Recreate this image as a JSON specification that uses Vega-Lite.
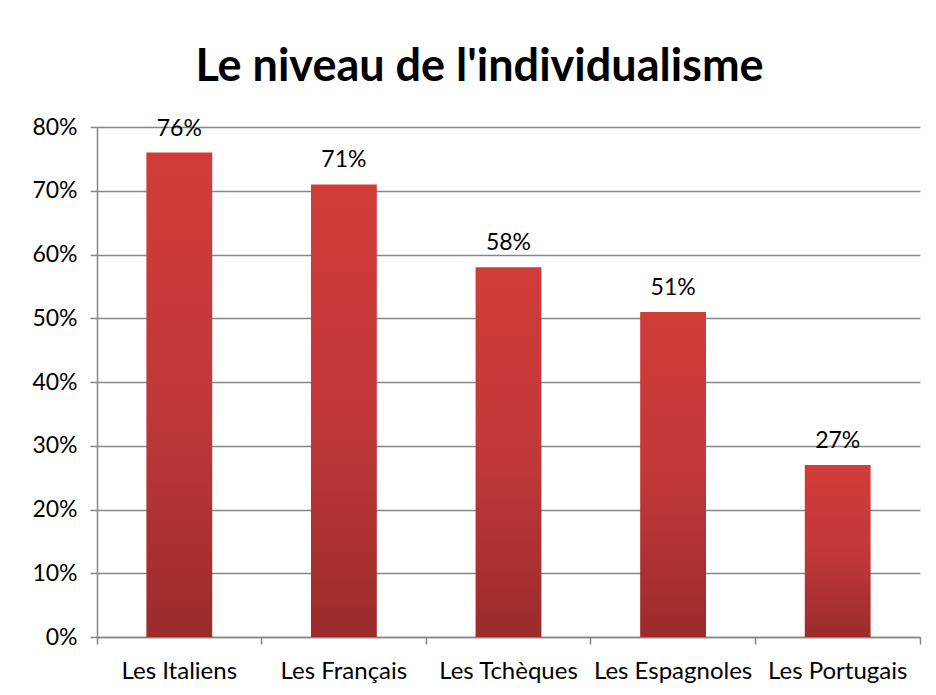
{
  "$schema": "https://vega.github.io/schema/vega-lite/v6.json",
  "width": 823,
  "height": 510,
  "autosize": {"type": "none"},
  "padding": {"left": 97, "top": 127, "right": 16, "bottom": 58},
  "background": "white",
  "title": {
    "text": "Le niveau de l'individualisme",
    "font": "Lato",
    "fontSize": 45,
    "fontWeight": "bold",
    "color": "black",
    "anchor": "middle",
    "frame": "group",
    "baseline": "alphabetic",
    "offset": -10,
    "dx": -29
  },
  "data": {
    "values": [
      {"groupe": "Les Italiens", "valeur": 0.76},
      {"groupe": "Les Français", "valeur": 0.71},
      {"groupe": "Les Tchèques", "valeur": 0.58},
      {"groupe": "Les Espagnoles", "valeur": 0.51},
      {"groupe": "Les Portugais", "valeur": 0.27}
    ]
  },
  "encoding": {
    "x": {
      "field": "groupe",
      "type": "nominal",
      "sort": null,
      "scale": {"paddingInner": 0, "paddingOuter": 0},
      "axis": {
        "title": null,
        "labelAngle": 0,
        "labelFont": "Lato",
        "labelFontSize": 24,
        "labelColor": "black",
        "labelPadding": 15,
        "bandPosition": 1,
        "tickExtra": true,
        "tickSize": 7,
        "tickColor": "#868686",
        "tickWidth": 1.5,
        "domainColor": "#868686",
        "domainWidth": 1.5,
        "grid": false
      }
    },
    "y": {
      "field": "valeur",
      "type": "quantitative",
      "scale": {"domain": [0, 0.8], "nice": false},
      "axis": {
        "title": null,
        "format": ".0%",
        "values": [0, 0.1, 0.2, 0.3, 0.4, 0.5, 0.6, 0.7, 0.8],
        "labelFont": "Lato",
        "labelFontSize": 23,
        "labelColor": "black",
        "labelPadding": 13,
        "tickSize": 7,
        "tickColor": "#868686",
        "tickWidth": 1.5,
        "domainColor": "#868686",
        "domainWidth": 1.5,
        "grid": true,
        "gridColor": "#868686",
        "gridWidth": 1.5
      }
    }
  },
  "layer": [
    {
      "mark": {
        "type": "bar",
        "width": {"band": 0.4},
        "color": {
          "gradient": "linear",
          "x1": 0, "y1": 0, "x2": 0, "y2": 1,
          "stops": [
            {"offset": 0, "color": "#d13c38"},
            {"offset": 0.5, "color": "#c2383a"},
            {"offset": 1, "color": "#9b2b2b"}
          ]
        }
      }
    },
    {
      "mark": {
        "type": "text",
        "font": "Lato",
        "fontSize": 23,
        "color": "black",
        "baseline": "alphabetic",
        "dy": -17
      },
      "encoding": {
        "text": {"field": "valeur", "type": "quantitative", "format": ".0%"}
      }
    }
  ],
  "config": {"view": {"stroke": null}}
}
